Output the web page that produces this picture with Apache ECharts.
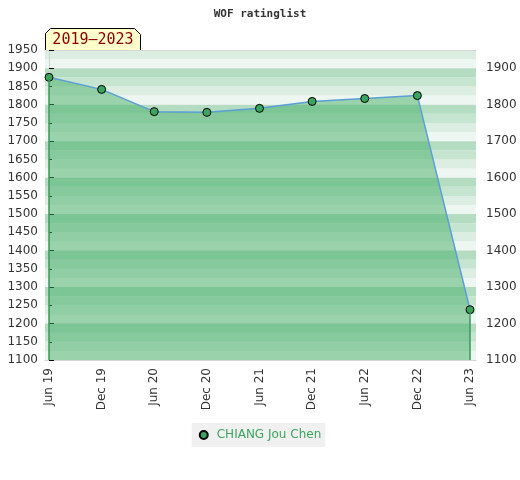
<!DOCTYPE html>
<html>
<head>
<meta charset="utf-8">
<script src="https://cdn.jsdelivr.net/npm/echarts@6/dist/echarts.min.js"></script>
<style>html,body{margin:0;padding:0;background:#fff}#c{width:520px;height:480px}</style>
</head>
<body>
<div id="c"></div>
<script>
const periods = ['Jun 19','Dec 19','Jun 20','Dec 20','Jun 21','Dec 21','Jun 22','Dec 22','Jun 23'];
const ratings = [1875, 1842, 1781, 1779, 1790, 1809, 1817, 1825, 1238];
const playerName = 'CHIANG Jou Chen';
const chartTitle = 'WOF ratinglist';
const rangeLabel = '2019\u20132023';
const yMin = 1100, yMax = 1950;
const leftTicks = 50, rightTicks = 100;
const bandStep = 25;
const bandColors = ['#eef6f1', '#dcede2', '#c6e5d0', '#b3dcc1'];

const bands = [];
for (let v = yMin; v < yMax; v += bandStep) {
  const k = Math.round((v % 100) / bandStep);
  bands.push([{ yAxis: v, itemStyle: { color: bandColors[k], opacity: 1 } }, { yAxis: v + bandStep }]);
}
const pts = ratings.map((r, i) => [i, r]);
const last = ratings.length - 1;

const chart = echarts.init(document.getElementById('c'));
chart.setOption({
  animation: false,
  title: {
    text: chartTitle, left: 'center', top: 4,
    textStyle: { fontFamily: 'DejaVu Sans Mono', fontSize: 11, fontWeight: 'bold', color: '#333' }
  },
  grid: { left: 45, right: 44, top: 50, bottom: 120, outerBoundsMode: 'none', containLabel: false },
  legend: {
    bottom: 33, left: 'center',
    backgroundColor: '#f0f0f0', padding: [6, 4, 6, 7],
    icon: 'circle', itemWidth: 8, itemHeight: 8, itemGap: 8,
    textStyle: { color: '#3aa55c', fontSize: 12, fontFamily: 'DejaVu Sans', padding: [0, 0, 0, 4] },
    data: [playerName]
  },
  xAxis: [
    {
      type: 'value', min: -0.076, max: 8.114,
      axisLine: { show: true, lineStyle: { color: '#d0d0d0' } },
      axisTick: { show: false },
      splitLine: { show: false },
      axisLabel: {
        customValues: periods.map((p, i) => i),
        formatter: v => periods[Math.round(v)],
        rotate: 90, color: '#333', fontSize: 12, fontFamily: 'DejaVu Sans', margin: 8
      }
    },
    {
      type: 'value', min: -0.076, max: 8.114, position: 'top', z: 1,
      axisLine: { show: true, lineStyle: { color: '#d6d6d6' } },
      axisTick: { show: false }, axisLabel: { show: false }, splitLine: { show: false }
    }
  ],
  yAxis: [
    {
      type: 'value', min: yMin, max: yMax, interval: leftTicks, position: 'left',
      axisLine: { show: true, lineStyle: { color: '#d0d0d0' } },
      axisTick: { show: false },
      splitLine: { show: false },
      axisLabel: { color: '#333', fontSize: 12, fontFamily: 'DejaVu Sans', margin: 7, formatter: v => String(v) }
    },
    {
      type: 'value', min: yMin, max: yMax, interval: rightTicks, position: 'right', z: 1,
      axisLine: { show: true, lineStyle: { color: '#d0d0d0' } },
      axisTick: { show: true, length: 5, lineStyle: { color: '#000' } },
      minorTick: { show: true, splitNumber: 2, length: 3, lineStyle: { color: '#000' } },
      splitLine: { show: true, lineStyle: { color: '#d6d6d6', width: 1 } },
      axisLabel: { color: '#333', fontSize: 12, fontFamily: 'DejaVu Sans', margin: 10, showMaxLabel: false, formatter: v => String(v) }
    }
  ],
  graphic: [
    {
      type: 'group', left: 45, top: 28,
      children: [
        { type: 'polygon', shape: { points: [[0, 5], [5, 0], [89, 0], [95, 6], [95, 22], [0, 22]] },
          style: { fill: '#ffffcc', stroke: '#000', lineWidth: 1 } },
        { type: 'text', x: 47.5, y: 12,
          style: { text: rangeLabel, fill: '#8b0000', font: '15px "DejaVu Sans Mono"', align: 'center', verticalAlign: 'middle' } }
      ]
    }
  ],
  series: [
    {
      type: 'line', name: 'bands', data: [], z: 0, silent: true,
      markArea: { silent: true, itemStyle: { opacity: 1 }, data: bands }
    },
    {
      type: 'line', name: playerName, data: pts, z: 2,
      symbol: 'circle', symbolSize: 8,
      lineStyle: { color: '#5a9fd6', width: 1.5 },
      itemStyle: { color: '#3aa55c', borderColor: '#000', borderWidth: 1 },
      areaStyle: { color: 'rgba(70,174,103,0.5)', opacity: 1, origin: 'start' },
      markLine: {
        silent: true, symbol: 'none', label: { show: false },
        lineStyle: { color: '#3a9a5a', width: 1.5, type: 'solid' },
        data: [
          [{ coord: [0, ratings[0]] }, { coord: [0, yMin] }],
          [{ coord: [last, ratings[last]] }, { coord: [last, yMin] }]
        ]
      }
    }
  ]
});
</script>
</body>
</html>
